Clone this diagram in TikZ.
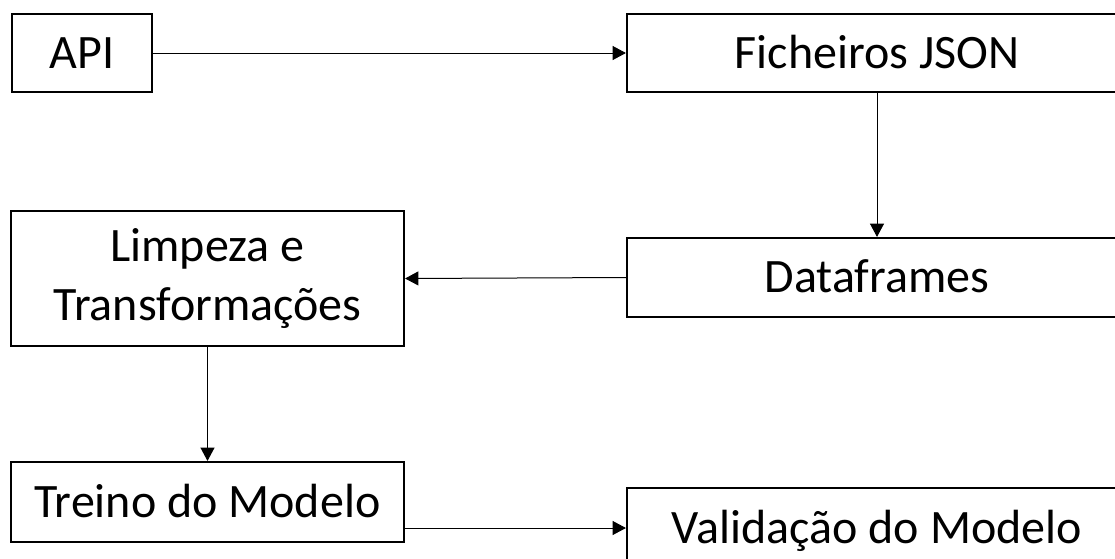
\documentclass[tikz,border=0pt]{standalone}
\usepackage{fontspec}
\setmainfont{Carlito}
\usetikzlibrary{arrows.meta}
\begin{document}
\begin{tikzpicture}[x=0.75pt,y=-0.75pt,
  box/.style={draw=black,line width=1.6pt,inner sep=0pt,font=\fontsize{36}{44}\selectfont,text height=23.2pt,text depth=0pt},
  conn/.style={draw=black,line width=0.75pt,-{Triangle[length=10pt,width=10.5pt]}}]
\clip (0,0) rectangle (1115,558);
\fill[white] (0,0) rectangle (1115,558);
\node[box,minimum width=105pt,minimum height=58.5pt] (api) at (82,53) {API};
\node[box,minimum width=375pt,minimum height=58.5pt] (json) at (877,53) {Ficheiros JSON};
\node[box,minimum width=375pt,minimum height=59.25pt] (df) at (877,277.5) {Dataframes};
\node[box,minimum width=294.75pt,minimum height=101.25pt,align=center,text height=,text depth=] (lt) at (207.5,278.5) {Limpeza e\\Transformações};
\node[box,minimum width=294.75pt,minimum height=60pt] (tm) at (207.5,502) {Treino do Modelo};
\node[box,minimum width=375pt,minimum height=60pt] (vm) at (877,528) {Validação do Modelo};
\draw[conn] (api.east) -- (json.west);
\draw[conn] (json.south) -- (df.north);
\draw[conn] (df.west) -- (lt.east);
\draw[conn] (lt.south) -- (tm.north);
\draw[conn] (tm.east |- vm.west) -- (vm.west);
\end{tikzpicture}
\end{document}
